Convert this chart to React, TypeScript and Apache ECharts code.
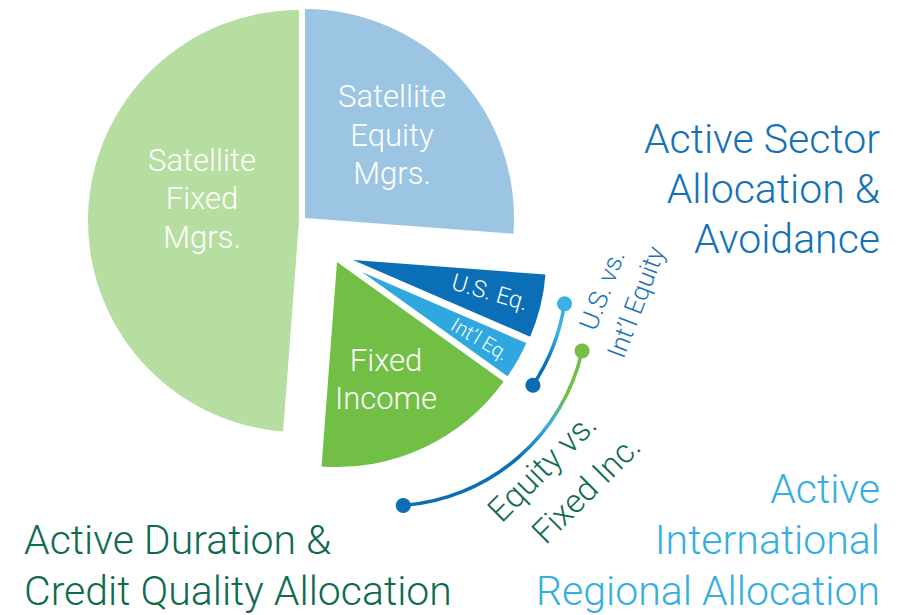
import React, { useEffect, useRef } from "react";
import * as echarts from "echarts";

// ---- data ----
const categories = [
  "Satellite Equity Mgrs.",
  "U.S. Eq.",
  "Int’l Eq.",
  "Fixed Income",
  "Satellite Fixed Mgrs.",
];
const shares = [26.2, 5.3, 3.4, 16.3, 48.8];
const sliceColors = ["#9cc5e4", "#0b6fb8", "#2fa8df", "#71bf45", "#b6dea1"];

// ---- layout (exploded slice anchors) ----
const sliceCenters: [number, number][] = [
  [305, 218],
  [353, 260],
  [362, 272],
  [337, 262],
  [299, 221],
];
const sliceRadii = [209, 193, 179, 205, 211];

const FONT = "Roboto, 'Liberation Sans', Arial, sans-serif";
const deg = (d: number) => (d * Math.PI) / 180;

function txt(
  text: string,
  x: number,
  y: number,
  fontSize: number,
  fill: string,
  align: string = "center",
  rotationDeg = 0
) {
  return {
    type: "text",
    x,
    y,
    rotation: deg(rotationDeg),
    z: 100,
    silent: true,
    style: {
      text,
      fill,
      fontSize,
      fontFamily: FONT,
      fontWeight: 300,
      align,
      verticalAlign: "middle",
    },
  };
}

function arcWithDots(
  cx: number,
  cy: number,
  r: number,
  a0: number,
  a1: number,
  stops: { offset: number; color: string }[],
  c0: string,
  c1: string
) {
  const p0 = [cx + r * Math.cos(deg(a0)), cy + r * Math.sin(deg(a0))];
  const p1 = [cx + r * Math.cos(deg(a1)), cy + r * Math.sin(deg(a1))];
  return [
    {
      type: "arc",
      z: 50,
      silent: true,
      shape: { cx, cy, r, startAngle: deg(a0), endAngle: deg(a1), clockwise: true },
      style: {
        fill: "none",
        stroke: new echarts.graphic.LinearGradient(0, 0, 0, 1, stops),
        lineWidth: 3.5,
      },
    },
    { type: "circle", z: 51, silent: true, shape: { cx: p0[0], cy: p0[1], r: 7.5 }, style: { fill: c0 } },
    { type: "circle", z: 51, silent: true, shape: { cx: p1[0], cy: p1[1], r: 7.5 }, style: { fill: c1 } },
  ];
}

export default function App() {
  const ref = useRef<HTMLDivElement>(null);
  useEffect(() => {
    if (!ref.current) return;
    const chart = echarts.init(ref.current, undefined, { renderer: "svg" });

    const series = categories.map((_, i) => ({
      type: "pie",
      silent: true,
      startAngle: 90,
      clockwise: true,
      center: sliceCenters[i],
      radius: [0, sliceRadii[i]],
      label: { show: false },
      labelLine: { show: false },
      emphasis: { disabled: true },
      data: categories.map((name, j) => ({
        name,
        value: shares[j],
        itemStyle: {
          color: j === i ? sliceColors[i] : "rgba(0,0,0,0)",
          borderWidth: 0,
        },
      })),
    }));

    const white = "#ffffff";
    const graphic: any[] = [
      // slice labels
      txt("Satellite", 202, 160, 31, white),
      txt("Fixed", 202, 198.6, 31, white),
      txt("Mgrs.", 202, 237, 31, white),
      txt("Satellite", 392, 96.3, 31, white),
      txt("Equity", 392, 135.1, 31, white),
      txt("Mgrs.", 392, 173.6, 31, white),
      txt("Fixed", 386, 360.3, 31, white),
      txt("Income", 386, 398.9, 31, white),
      txt("U.S. Eq.", 490, 292, 23.5, white, "center", -16),
      txt("Int’l Eq.", 480, 339, 20, white, "center", -31),
      // arcs
      ...arcWithDots(
        362, 272, 205, 8.9, 33.5,
        [
          { offset: 0, color: "#3ab0e6" },
          { offset: 0.35, color: "#3ab0e6" },
          { offset: 0.75, color: "#0b6db5" },
          { offset: 1, color: "#0b6db5" },
        ],
        "#3db1e6", "#0b6db5"
      ),
      ...arcWithDots(
        388, 307, 199, 12.8, 85.6,
        [
          { offset: 0, color: "#72bf44" },
          { offset: 0.28, color: "#72bf44" },
          { offset: 0.48, color: "#3aaee0" },
          { offset: 0.7, color: "#0b6db5" },
          { offset: 1, color: "#0b6db5" },
        ],
        "#72bf44", "#0b6db5"
      ),
      // rotated arc labels
      txt("U.S. vs.", 602, 290, 26, "#1a73ba", "center", 69),
      txt("Int’l Equity", 636, 302, 26, "#1a73ba", "center", 69),
      txt("Equity vs.", 542, 467, 33, "#0e6b4f", "center", 45),
      txt("Fixed Inc.", 586, 489, 33, "#0e6b4f", "center", 45),
      // headline texts
      txt("Active Sector", 880, 139.4, 41, "#1371b9", "right"),
      txt("Allocation &", 880, 189.4, 41, "#1371b9", "right"),
      txt("Avoidance", 880, 239.4, 41, "#1371b9", "right"),
      txt("Active", 880, 489, 41, "#35aee3", "right"),
      txt("International", 880, 540, 41, "#35aee3", "right"),
      txt("Regional Allocation", 880, 591, 41, "#35aee3", "right"),
      txt("Active Duration &", 24, 540, 41, "#0e6b4f", "left"),
      txt("Credit Quality Allocation", 24, 591, 41, "#0e6b4f", "left"),
    ];

    chart.setOption({
      animation: false,
      backgroundColor: "#ffffff",
      tooltip: { show: false },
      legend: { show: false },
      series,
      graphic,
    } as any);

    return () => chart.dispose();
  }, []);

  return (
    <div
      ref={ref}
      style={{ position: "absolute", left: 0, top: 0, width: 903, height: 615 }}
    />
  );
}
